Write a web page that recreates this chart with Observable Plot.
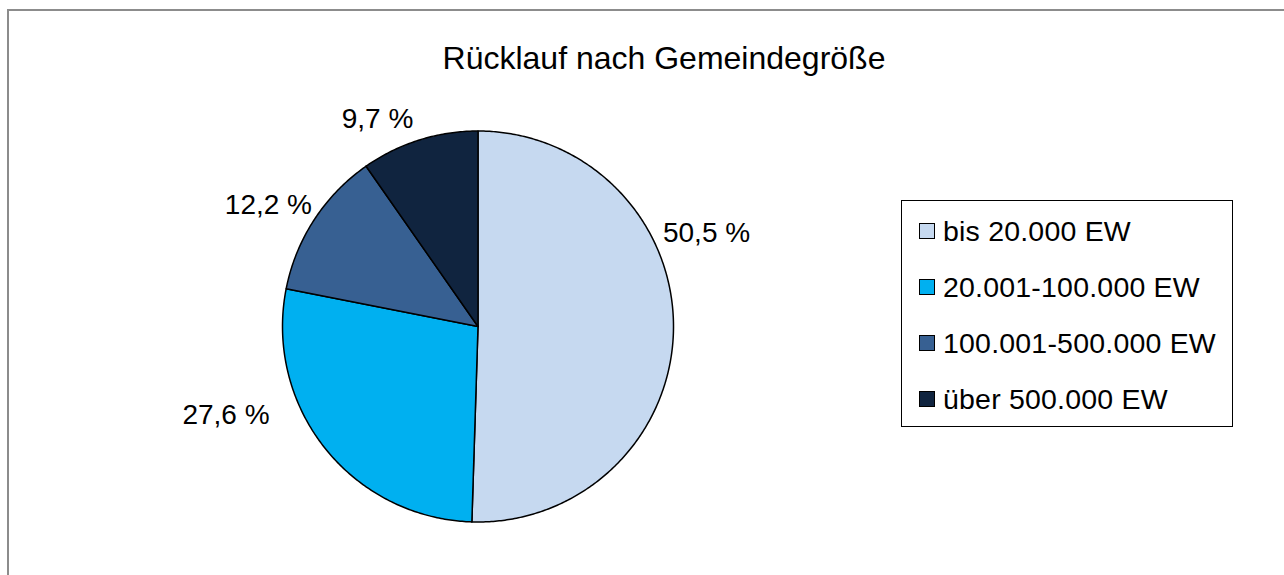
<!DOCTYPE html>
<html>
<head>
<meta charset="utf-8">
<script src="https://cdn.jsdelivr.net/npm/d3@7"></script>
<script src="https://cdn.jsdelivr.net/npm/@observablehq/plot@0.6"></script>
<style>
  html, body { margin: 0; padding: 0; background: #fff; }
  #wrap { position: relative; width: 1284px; height: 575px; overflow: hidden; font-family: "Liberation Sans", Arial, sans-serif; }
  #frame { position: absolute; left: 7px; top: 9px; width: 1400px; height: 700px; border: 2px solid #8c8c8c; box-sizing: border-box; }
  #title { position: absolute; left: 0; width: 1328px; top: 42px; text-align: center; font-size: 32px; line-height: 32px; color: #000; }
  #chart { position: absolute; left: 0; top: 0; }
  #legend { position: absolute; left: 901px; top: 200px; width: 332px; height: 227px; border: 1.5px solid #000; box-sizing: border-box; padding-top: 2px; }
  .row { display: flex; align-items: center; height: 56px; font-size: 28.5px; letter-spacing: 0.2px; color: #000; }
  .sw { width: 14px; height: 14px; border: 1px solid #000; margin-left: 17px; margin-right: 8px; flex: none; }
</style>
</head>
<body>
<div id="wrap">
  <div id="frame"></div>
  <div id="chart"></div>
  <div id="title">Rücklauf nach Gemeindegröße</div>
  <div id="legend"></div>
</div>
<script>
// ---- data ----
const categories = ["bis 20.000 EW", "20.001-100.000 EW", "100.001-500.000 EW", "über 500.000 EW"];
const shares = [50.5, 27.6, 12.2, 9.7];
const labels = ["50,5 %", "27,6 %", "12,2 %", "9,7 %"];
const colors = ["#C6D9F0", "#00B0F0", "#376092", "#10243F"];
// label placement (in pie-radius units, relative to centre)
const labelX = [1.169, -1.289, -1.072, -0.514];
const labelY = [0.476, -0.454, 0.619, 1.060];

// ---- geometry from data ----
const pie = d3.pie().sort(null).value(d => d)(shares);
const pts = [];
pie.forEach((p, i) => {
  const cat = categories[i];
  pts.push({cat, x: 0, y: 0});
  const n = Math.max(8, Math.ceil((p.endAngle - p.startAngle) / 0.01));
  for (let k = 0; k <= n; k++) {
    const a = p.startAngle + (p.endAngle - p.startAngle) * k / n;
    pts.push({cat, x: Math.sin(a), y: Math.cos(a)});
  }
});
const labelData = labels.map((t, i) => ({t, x: labelX[i], y: labelY[i]}));

const cx = 477.5, cy = 326, R = 195.5;
const plot = Plot.plot({
  width: 1284, height: 575,
  margin: 0,
  x: {domain: [-1, 1], range: [cx - R, cx + R], axis: null},
  y: {domain: [-1, 1], range: [cy + R, cy - R], axis: null},
  color: {domain: categories, range: colors},
  style: {background: "transparent", fontFamily: "Liberation Sans, Arial, sans-serif"},
  marks: [
    Plot.line(pts, {x: "x", y: "y", z: "cat", fill: "cat", stroke: "#000", strokeWidth: 1.5, curve: "linear-closed"}),
    Plot.text(labelData, {x: "x", y: "y", text: "t", fontSize: 28, fill: "#000"})
  ]
});
document.getElementById("chart").appendChild(plot);

const legend = document.getElementById("legend");
categories.forEach((c, i) => {
  const row = document.createElement("div");
  row.className = "row";
  const sw = document.createElement("div");
  sw.className = "sw";
  sw.style.background = colors[i];
  const tx = document.createElement("span");
  tx.textContent = c;
  row.appendChild(sw); row.appendChild(tx);
  legend.appendChild(row);
});
</script>
</body>
</html>
